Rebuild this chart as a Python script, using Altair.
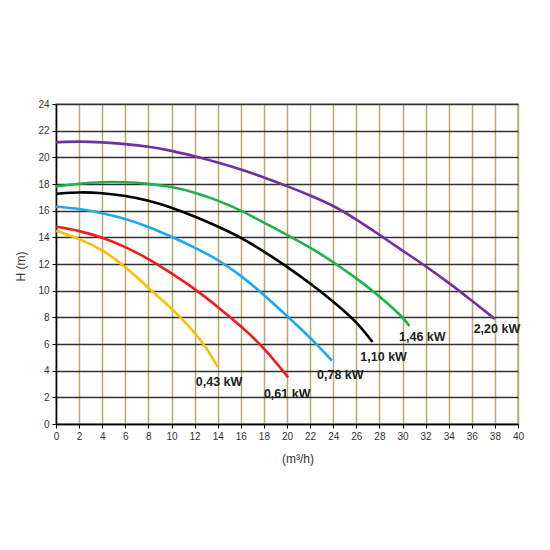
import altair as alt
import pandas as pd

# pump curves: flow Q (m3/h) and head H (m)
series_names = ["0,43 kW", "0,61 kW", "0,78 kW", "1,10 kW", "1,46 kW", "2,20 kW"]
series_colors = ["#ffc000", "#f21c1c", "#1fa9ec", "#000000", "#1fb14a", "#7030a0"]

q_043 = [0, 2, 4, 6, 8, 10, 12, 13, 14]
h_043 = [14.5, 13.9, 13.1, 11.8, 10.2, 8.7, 6.9, 5.75, 4.3]

q_061 = [0, 2, 4, 6, 8, 10, 12, 14, 16, 18, 20.1]
h_061 = [14.8, 14.5, 14.0, 13.3, 12.4, 11.3, 10.15, 8.8, 7.35, 5.75, 3.5]

q_078 = [0, 2, 4, 6, 8, 10, 12, 14, 16, 18, 20, 22, 23.9]
h_078 = [16.3, 16.15, 15.83, 15.4, 14.8, 14.05, 13.25, 12.35, 11.15, 9.7, 8.1, 6.5, 4.75]

q_110 = [0, 2, 4, 6, 8, 10, 12, 14, 16, 18, 20, 22, 24, 26, 27.4]
h_110 = [17.27, 17.4, 17.33, 17.13, 16.78, 16.25, 15.57, 14.82, 14.0, 12.95, 11.8,
         10.55, 9.2, 7.7, 6.15]

q_146 = [0, 2, 4, 6, 8, 10, 12, 14, 16, 18, 20, 22, 24, 26, 28, 30, 30.6]
h_146 = [17.82, 18.03, 18.15, 18.15, 18.03, 17.8, 17.38, 16.78, 16.03, 15.1, 14.2,
         13.25, 12.15, 10.95, 9.6, 8.05, 7.35]

q_220 = [0, 2, 4, 6, 8, 10, 12, 14, 16, 18, 20, 22, 24, 26, 28, 30, 32, 34, 36, 38]
h_220 = [21.13, 21.2, 21.13, 21.0, 20.82, 20.5, 20.08, 19.62, 19.1, 18.5, 17.85,
         17.15, 16.4, 15.35, 14.2, 13.0, 11.85, 10.6, 9.25, 7.88]

# where the power labels sit (left edge, vertical middle)
label_q = [12.1, 18.0, 22.6, 26.35, 29.7, 36.16]
label_h = [3.17, 2.22, 3.67, 5.0, 6.5, 7.16]

curves = [(q_043, h_043), (q_061, h_061), (q_078, h_078),
          (q_110, h_110), (q_146, h_146), (q_220, h_220)]

rows = []
for name, (qs, hs) in zip(series_names, curves):
    for q, h in zip(qs, hs):
        rows.append({"kW": name, "Q": q, "H": h})
df = pd.DataFrame(rows)

labels = pd.DataFrame({"kW": series_names, "Q": label_q, "H": label_h})

x_scale = alt.Scale(domain=[0, 40], nice=False)
y_scale = alt.Scale(domain=[0, 24], nice=False)

x_axis = alt.Axis(
    values=list(range(0, 41, 2)), title="(m³/h)", labelOverlap=False,
    titleX=241.5, titleY=34, titleAnchor="middle", titleAlign="center",
    titleBaseline="middle", titleFontSize=12, titleFontWeight="normal",
    titleColor="#333", labelFontSize=10, labelColor="#333", labelFlush=False,
    labelPadding=3, tickSize=4, tickColor="#000", domainColor="#000",
    domainWidth=1.5, gridColor="#b9aa72", gridWidth=1.5)
y_axis = alt.Axis(
    values=list(range(0, 25, 2)), title="H  (m)", labelOverlap=False,
    titleX=-36, titleY=162, titleAngle=-90, titleAlign="center",
    titleBaseline="middle", titleFontSize=12, titleFontWeight="normal",
    titleColor="#333", labelFontSize=10, labelColor="#333", labelPadding=3,
    tickSize=4, tickColor="#000", domainColor="#000", domainWidth=1.5,
    gridColor="#333", gridWidth=1.5)

lines = alt.Chart(df).mark_line(strokeWidth=2.6, interpolate="basis").encode(
    x=alt.X("Q:Q", scale=x_scale, axis=x_axis),
    y=alt.Y("H:Q", scale=y_scale, axis=y_axis),
    color=alt.Color("kW:N", scale=alt.Scale(domain=series_names, range=series_colors),
                    legend=None),
)

texts = alt.Chart(labels).mark_text(
    align="left", baseline="middle", fontSize=12.5, fontWeight="bold", color="#222"
).encode(
    x=alt.X("Q:Q", scale=x_scale, axis=x_axis),
    y=alt.Y("H:Q", scale=y_scale, axis=y_axis),
    text="kW:N",
)

chart = alt.layer(lines, texts).properties(
    width=462,
    height=320,
    autosize=alt.AutoSizeParams(type="none"),
    padding={"left": 48, "top": 96, "right": 20, "bottom": 60},
).configure(
    font="Liberation Sans"
).configure_view(
    stroke="#aaaaaa",
    strokeWidth=1.5
)

chart.save("out.html", embed_options={"renderer": "svg", "actions": False})
